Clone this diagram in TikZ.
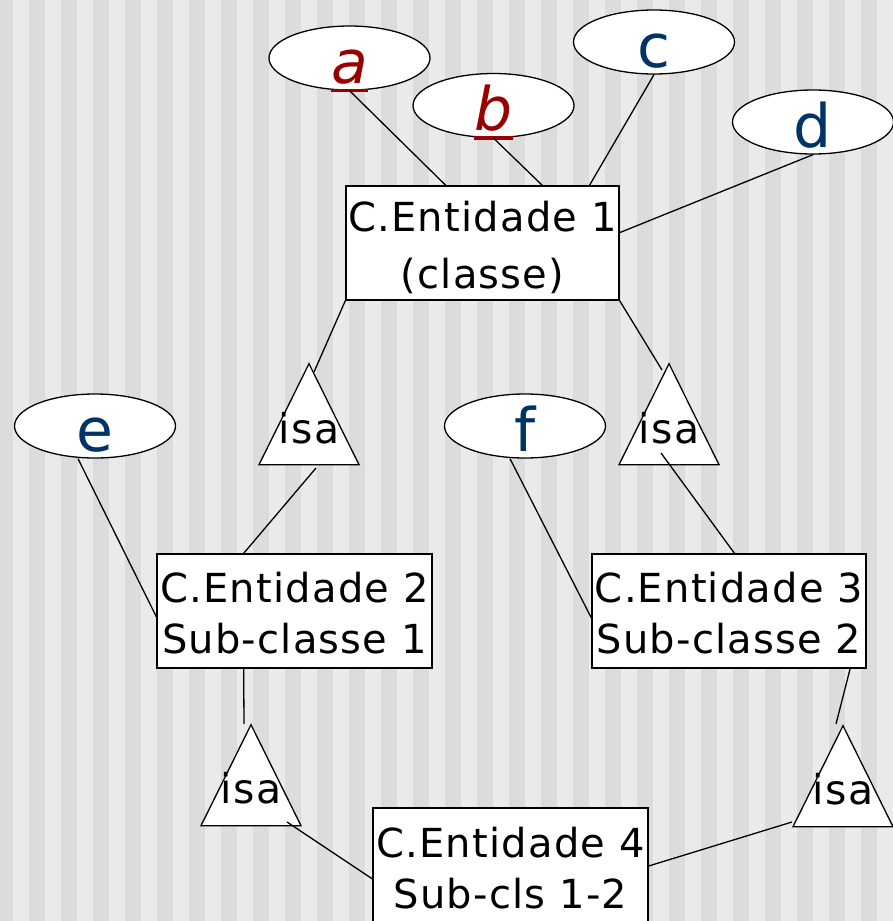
\documentclass[tikz,border=0pt]{standalone}
\usepackage{fontspec}
\setmainfont{DejaVu Sans}
\newfontfamily\entfont{DejaVu Sans}[LetterSpace=3]
\usetikzlibrary{positioning,shapes.geometric,calc}
\definecolor{keyred}{HTML}{990000}
\definecolor{attrblue}{HTML}{003366}
\definecolor{stripedark}{HTML}{DCDCDC}
\definecolor{stripelight}{HTML}{EAEAEA}
\newcommand{\chave}[1]{\setbox0\hbox{#1}\rlap{\rule[-9pt]{\wd0}{3.5pt}}\box0}
\newcommand{\attrtxt}[1]{\raisebox{-12.5pt}{#1}}
\newcommand{\entstrut}{\rule[-6pt]{0pt}{45pt}}
\tikzset{
  line/.style     = {line width=1.3pt, black},
  attr/.style     = {ellipse, draw, line width=1.3pt, fill=white, minimum width=161pt, minimum height=64pt, inner sep=0pt, text height=25pt, text depth=0pt, font=\fontsize{60}{60}\selectfont},
  entbox/.style   = {rectangle, draw, line width=1.3pt, fill=white, minimum width=274pt, minimum height=114pt, inner sep=0pt, align=center, font=\entfont\fontsize{40}{51}\selectfont},
  isatri/.style   = {isosceles triangle, isosceles triangle stretches, shape border rotate=90, draw, line width=1.3pt, fill=white, minimum width=100pt, minimum height=101pt, inner sep=0pt},
  isalabel/.style = {inner sep=0pt, font=\entfont\fontsize{41}{41}\selectfont}
}
\begin{document}
\begin{tikzpicture}[x=1pt, y=-1pt]
\useasboundingbox (0,0) rectangle (893,921);

% stripes
\fill[stripelight] (0,0) rectangle (893,921);
\foreach \k in {0,...,28}
  \fill[stripedark] ({max(32*\k-3,0)},0) rectangle ({32*\k+13},921);

% Level 1
\node[entbox, minimum width=273pt, font=\entfont\fontsize{40}{57}\selectfont] (ent1) at (482.5,243) {\entstrut C.Entidade 1\\\entstrut (classe)};

\node[attr, text=keyred] (a) at (349.5,58) {\attrtxt{\chave{\itshape a}}};
\node[attr, text=keyred] (b) at (493.5,105.5) {\attrtxt{\chave{\itshape b}}};
\node[attr, text=attrblue] (c) at (654,42) {\attrtxt{c}};
\node[attr, text=attrblue] (d) at (813,122) {\attrtxt{d}};

% Level 2
\node[isatri, anchor=apex] (isa1) at (309,362) {};
\node[isalabel, anchor=base] (isa1t) at ($(isa1.apex)+(0,81)$) {isa};
\node[isatri, anchor=apex] (isa2) at (669,362) {};
\node[isalabel, anchor=base] (isa2t) at ($(isa2.apex)+(0,81)$) {isa};

\node[attr, text=attrblue] (e) at (95,426) {\attrtxt{e}};
\node[attr, text=attrblue] (f) at (525,426) {\attrtxt{f}};

\node[entbox, minimum width=275pt] (ent2) at (294.5,611) {\entstrut C.Entidade 2\\\entstrut Sub-classe 1};
\node[entbox] (ent3) at (729,611) {\entstrut C.Entidade 3\\\entstrut Sub-classe 2};

% Level 3
\node[isatri, anchor=apex] (isa3) at (251,723) {};
\node[isalabel, anchor=base] (isa3t) at ($(isa3.apex)+(0,80)$) {isa};
\node[isatri, anchor=apex] (isa4) at (843,724) {};
\node[isalabel, anchor=base] (isa4t) at ($(isa4.apex)+(0,80)$) {isa};

\node[entbox, minimum width=275pt, minimum height=116pt] (ent4) at (510.5,866) {\entstrut C.Entidade 4\\\entstrut Sub-cls 1-2};

% Connections
\draw[line] (a.south) -- ($(ent1.north west)!0.366!(ent1.north east)$);
\draw[line] (b.south) -- ($(ent1.north west)!0.718!(ent1.north east)$);
\draw[line] (c.south) -- ($(ent1.north west)!0.89!(ent1.north east)$);
\draw[line] (d.south) -- ($(ent1.north east)!0.41!(ent1.south east)$);
\draw[line] (ent1.south west) -- ($(isa1.apex)+(5,10)$);
\draw[line] (ent1.south east) -- ($(isa2.apex)+(-7,8)$);
\draw[line] ($(isa1.apex)+(7,106)$) -- ($(ent2.north west)!0.316!(ent2.north east)$);
\draw[line] ($(isa2.apex)+(-8,91)$) -- ($(ent3.north west)!0.52!(ent3.north east)$);
\draw[line] ($(e.south)+(-17,0)$) -- ($(ent2.north west)!0.55!(ent2.south west)$);
\draw[line] ($(f.south)+(-15,0)$) -- ($(ent3.north west)!0.56!(ent3.south west)$);
\draw[line] ($(ent2.south west)!0.316!(ent2.south east)$) -- ($(isa3.apex)+(-7,1)$);
\draw[line] ($(ent3.south west)!0.94!(ent3.south east)$) -- ($(isa4.apex)+(-7,0)$);
\draw[line] ($(isa3.apex)+(36,99)$) -- ($(ent4.north west)!0.61!(ent4.south west)$);
\draw[line] ($(isa4.apex)+(-51,98)$) -- ($(ent4.north east)!0.5!(ent4.south east)$);

\end{tikzpicture}
\end{document}
